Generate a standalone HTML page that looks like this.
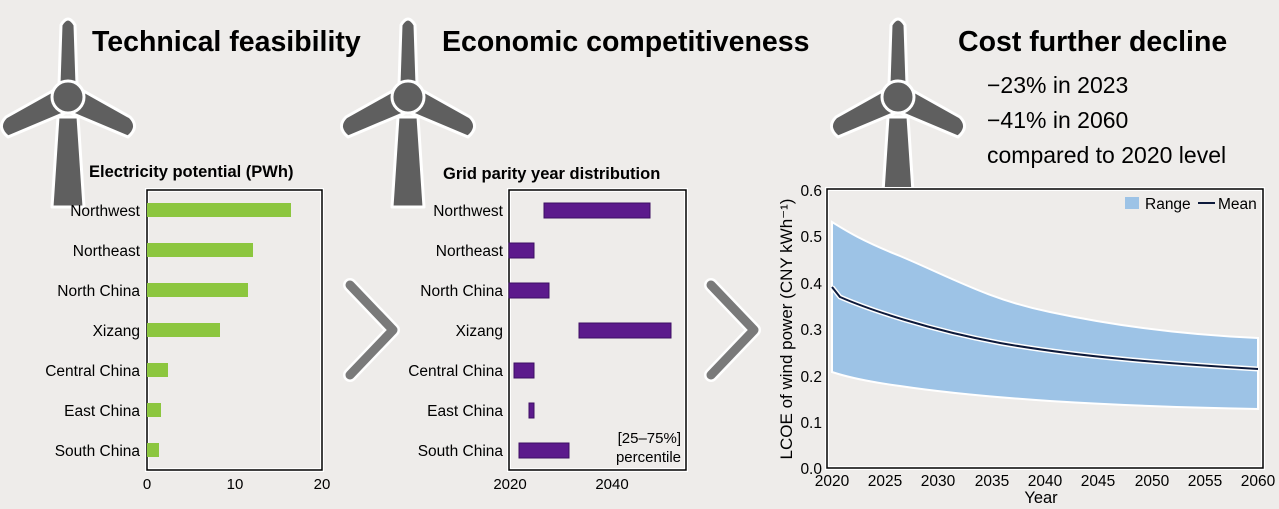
<!DOCTYPE html>
<html><head><meta charset="utf-8"><style>
body{margin:0;background:#eeecea;}
svg{display:block;font-family:"Liberation Sans",Arial,sans-serif;}
</style></head><body>
<svg width="1279" height="509" viewBox="0 0 1279 509">
<rect width="1279" height="509" fill="#eeecea"/>
<defs>
<g id="tb">
 <g fill="#5f5f5f" stroke="#fff" stroke-width="3" stroke-linejoin="round">
  <path d="M-10,20 L10,20 L16,110 L-16,110 Z"/>
  <path d="M-9,-12 L-7,-72 Q0,-84 7,-72 L9,-12 Z"/>
  <path d="M-12,-8 L-62,20 Q-72,30 -60,40 L-3,16 Z"/>
  <path d="M12,-8 L62,20 Q72,30 60,40 L3,16 Z"/>
  <circle r="16"/>
 </g>
</g>
</defs>
<use href="#tb" x="68" y="97"/>
<use href="#tb" x="408" y="97"/>
<use href="#tb" x="898" y="97"/>
<g font-weight="bold" fill="#000">
<text x="92" y="51" font-size="28.5">Technical feasibility</text>
<text x="442" y="51" font-size="28.5">Economic competitiveness</text>
<text x="958" y="51" font-size="28.5">Cost further decline</text>
<text x="89" y="177" font-size="16.5">Electricity potential (PWh)</text>
<text x="443" y="179" font-size="16.5">Grid parity year distribution</text>
</g>
<g font-size="23" fill="#000">
<text x="987" y="93">−23% in 2023</text>
<text x="987" y="128">−41% in 2060</text>
<text x="987" y="163">compared to 2020 level</text>
</g>
<g fill="none" stroke="#fff" stroke-width="14" stroke-linecap="round" stroke-linejoin="round">
<path d="M350,285 L393,330 L350,375"/><path d="M711,285 L754,330 L711,375"/></g>
<g fill="none" stroke="#7a7a7a" stroke-width="9" stroke-linecap="round" stroke-linejoin="round">
<path d="M350,285 L393,330 L350,375"/><path d="M711,285 L754,330 L711,375"/></g>
<rect x="147" y="190" width="175" height="280" fill="#eeecea" stroke="#fff" stroke-width="4"/>
<rect x="147" y="190" width="175" height="280" fill="none" stroke="#000" stroke-width="1.5"/>
<g fill="#8cc63f">
<rect x="147" y="203" width="144" height="14"/>
<rect x="147" y="243" width="106" height="14"/>
<rect x="147" y="283" width="101" height="14"/>
<rect x="147" y="323" width="73" height="14"/>
<rect x="147" y="363" width="21" height="14"/>
<rect x="147" y="403" width="14" height="14"/>
<rect x="147" y="443" width="12" height="14"/>
</g>
<g font-size="15.5" text-anchor="end" fill="#000">
<text x="140" y="216">Northwest</text><text x="140" y="256">Northeast</text>
<text x="140" y="296">North China</text><text x="140" y="336">Xizang</text>
<text x="140" y="376">Central China</text><text x="140" y="416">East China</text>
<text x="140" y="456">South China</text>
<text x="503" y="216">Northwest</text><text x="503" y="256">Northeast</text>
<text x="503" y="296">North China</text><text x="503" y="336">Xizang</text>
<text x="503" y="376">Central China</text><text x="503" y="416">East China</text>
<text x="503" y="456">South China</text>
</g>
<g font-size="15" text-anchor="middle">
<text x="147" y="489">0</text><text x="235" y="489">10</text><text x="322" y="489">20</text>
<text x="510" y="489">2020</text><text x="612" y="489">2040</text>
</g>
<rect x="509" y="190" width="177" height="280" fill="#eeecea" stroke="#fff" stroke-width="4"/>
<rect x="509" y="190" width="177" height="280" fill="none" stroke="#000" stroke-width="1.5"/>
<g fill="#5c1a8c" stroke="#3d0f63" stroke-width="1">
<rect x="544" y="203" width="106" height="15"/>
<rect x="509" y="243" width="25" height="15"/>
<rect x="509" y="283" width="40" height="15"/>
<rect x="579" y="323" width="92" height="15"/>
<rect x="514" y="363" width="20" height="15"/>
<rect x="529" y="403" width="5" height="15"/>
<rect x="519" y="443" width="50" height="15"/>
</g>
<g font-size="15" text-anchor="end"><text x="681" y="443">[25–75%]</text><text x="681" y="462">percentile</text></g>
<rect x="827" y="189" width="436" height="279" fill="#eeecea" stroke="#fff" stroke-width="4"/>
<path d="M832,222 C845,230 860,240 900,256 C950,277 990,300 1050,312 C1120,327 1190,335 1258,338 L1258,409 C1200,408 1130,406 1050,401 C990,397 940,392 900,386 C870,382 850,378 832,372 Z" fill="#9dc3e6" stroke="#fff" stroke-width="2"/>
<path d="M832,287 L840,297 C870,310 930,330 1000,343 C1080,357 1160,363 1258,369" fill="none" stroke="#fff" stroke-width="5"/>
<path d="M832,287 L840,297 C870,310 930,330 1000,343 C1080,357 1160,363 1258,369" fill="none" stroke="#0d1a3c" stroke-width="2"/>
<rect x="827" y="189" width="436" height="279" fill="none" stroke="#000" stroke-width="1.5"/>
<rect x="1125" y="197" width="14" height="12" fill="#9dc3e6"/>
<text x="1145" y="209" font-size="15.5">Range</text>
<line x1="1198" y1="203" x2="1215" y2="203" stroke="#0d1a3c" stroke-width="2"/>
<text x="1218" y="209" font-size="15.5">Mean</text>
<g font-size="15.5" text-anchor="end">
<text x="822" y="196">0.6</text><text x="822" y="242">0.5</text><text x="822" y="289">0.4</text>
<text x="822" y="335">0.3</text><text x="822" y="382">0.2</text><text x="822" y="428">0.1</text>
<text x="822" y="474">0.0</text></g>
<g font-size="15.5" text-anchor="middle">
<text x="832" y="486">2020</text><text x="885" y="486">2025</text><text x="938" y="486">2030</text>
<text x="992" y="486">2035</text><text x="1045" y="486">2040</text><text x="1098" y="486">2045</text>
<text x="1152" y="486">2050</text><text x="1205" y="486">2055</text><text x="1258" y="486">2060</text>
<text x="1041" y="503" font-size="16.5">Year</text>
</g>
<text transform="translate(792,329) rotate(-90)" font-size="17" text-anchor="middle">LCOE of wind power (CNY kWh⁻¹)</text>
</svg>
</body></html>
